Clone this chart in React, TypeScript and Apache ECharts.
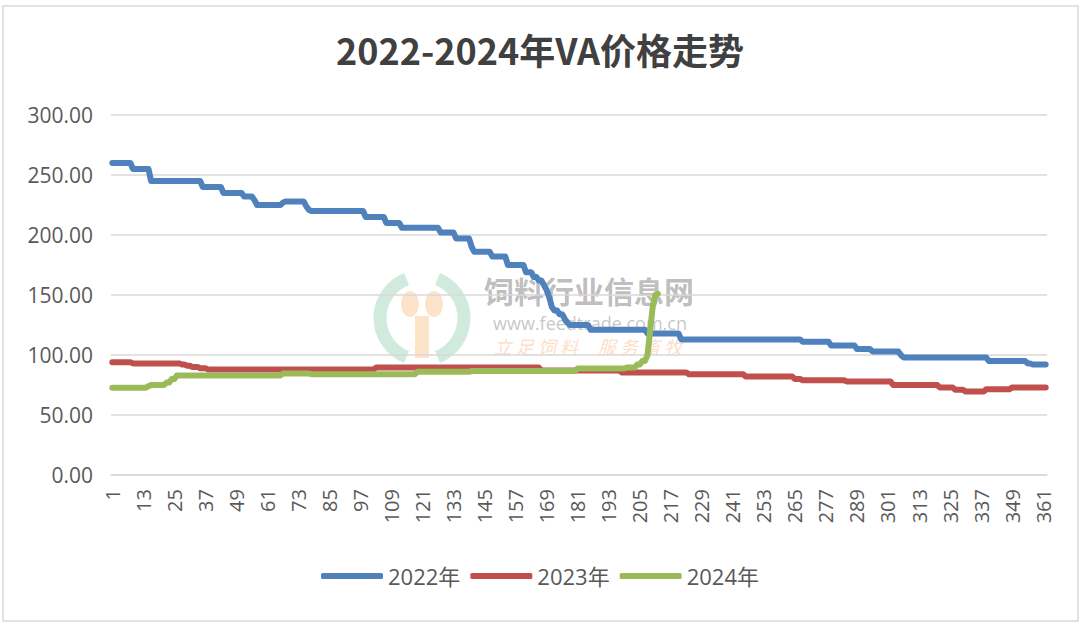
import React, { useEffect, useRef } from "react";
import * as echarts from "echarts";

// Run-length encoded daily prices: [value, number of days]
const runs2022: [number, number][] = [
  [260, 8], [255, 7], [245, 20], [240, 8], [235, 8], [232, 4], [229, 1], [225, 10],
  [227, 1], [228, 8], [224, 1], [221, 1], [220, 21], [215, 8], [210, 6], [206, 15],
  [202, 6], [197, 6], [190, 1], [186, 7], [182, 6], [175, 7], [169, 3], [165, 2],
  [162, 2], [158, 1], [154, 1], [148, 1], [140, 1], [137, 2], [134, 2], [130, 1],
  [127, 1], [125, 8], [121, 22], [118, 13], [113, 47], [111, 11], [108, 10], [105, 6],
  [103, 11], [100, 1], [98, 33], [95, 15], [93, 2], [92, 6],
];
const runs2023: [number, number][] = [
  [94, 8], [93, 19], [92, 2], [91, 2], [90, 3], [89, 3], [88, 65], [89.5, 64],
  [87, 31], [85.5, 26], [84, 22], [82, 19], [80, 3], [79, 17], [78, 18], [75, 18],
  [73, 6], [71, 4], [69.5, 8], [71.5, 10], [73, 14],
];
const runs2024: [number, number][] = [
  [72.8, 14], [74, 1], [75, 6], [77, 2], [80, 2], [83, 41], [84.5, 11], [84, 41],
  [86, 21], [86.7, 41], [88.7, 19], [89.5, 4], [92, 2], [95, 2], [100, 1], [120, 1],
  [140, 1], [150, 1], [151, 1],
];
const seriesNames = ["2022年", "2023年", "2024年"];
const dayCount = 362;
const categories: string[] = Array.from({ length: dayCount }, (_, i) => String(i + 1));
const yTicks = { min: 0, max: 300, interval: 50 };

function expand(runs: [number, number][]): number[] {
  const out: number[] = [];
  runs.forEach(([v, n]) => {
    for (let k = 0; k < n; k++) out.push(v);
  });
  return out;
}

export default function App() {
  const ref = useRef<HTMLDivElement>(null);
  useEffect(() => {
    document.body.style.margin = "0";
    const chart = echarts.init(ref.current!, undefined, { renderer: "svg" });
    const colors = ["#4F81BD", "#C0504D", "#9BBB59"];
    const data = [expand(runs2022), expand(runs2023), expand(runs2024)];
    const font = "'Open Sans', 'Noto Sans CJK SC', sans-serif";
    chart.setOption({
      animation: false,
      backgroundColor: "#ffffff",
      title: {
        text: "2022-2024年VA价格走势",
        left: "center",
        top: 26,
        textStyle: {
          fontFamily: "'Noto Sans CJK SC', sans-serif",
          fontWeight: "bold",
          fontSize: 36,
          color: "#404040",
        },
      },
      legend: {
        data: seriesNames,
        bottom: 32,
        left: "center",
        icon: "roundRect",
        itemWidth: 62,
        itemHeight: 6,
        itemGap: 10,
        textStyle: { fontFamily: font, fontSize: 22, color: "#595959", padding: [0, 0, 0, 0] },
      },
      grid: { left: 111, right: 33, top: 115, bottom: 149 },
      xAxis: {
        type: "category",
        data: categories,
        boundaryGap: true,
        axisLine: { lineStyle: { color: "#D9D9D9", width: 1.5 } },
        axisTick: { show: false },
        axisLabel: {
          interval: 11,
          rotate: 90,
          margin: 14,
          fontFamily: font,
          fontSize: 20,
          color: "#595959",
        },
      },
      yAxis: {
        type: "value",
        min: yTicks.min,
        max: yTicks.max,
        interval: yTicks.interval,
        axisLine: { show: false },
        axisTick: { show: false },
        splitLine: { lineStyle: { color: "#D9D9D9", width: 1.5 } },
        axisLabel: {
          margin: 18,
          fontFamily: font,
          fontSize: 21,
          color: "#595959",
          formatter: (v: number) => v.toFixed(2),
        },
      },
      series: seriesNames.map((name, i) => ({
        name,
        type: "line",
        data: data[i],
        showSymbol: false,
        symbol: "none",
        color: colors[i],
        lineStyle: { width: 6, color: colors[i], cap: "round", join: "round" },
        z: 2,
      })),
      graphic: [
        {
          type: "rect",
          shape: { x: 3, y: 6, width: 1075, height: 615 },
          style: { fill: "none", stroke: "#D9D9D9", lineWidth: 1.5 },
          silent: true,
        },
        {
          type: "group",
          z: 100,
          silent: true,
          children: [
            {
              type: "arc",
              shape: { cx: 422, cy: 318, r: 42, startAngle: Math.PI * 0.62, endAngle: Math.PI * 1.38 },
              style: { stroke: "rgba(150,210,180,0.45)", lineWidth: 13, fill: "none" },
            },
            {
              type: "arc",
              shape: { cx: 422, cy: 318, r: 42, startAngle: -Math.PI * 0.38, endAngle: Math.PI * 0.38 },
              style: { stroke: "rgba(150,210,180,0.45)", lineWidth: 13, fill: "none" },
            },
            {
              type: "rect",
              shape: { x: 415, y: 316, width: 14, height: 42 },
              style: { fill: "rgba(252,200,150,0.5)" },
            },
            {
              type: "ellipse",
              shape: { cx: 410, cy: 304, rx: 9, ry: 13 },
              style: { fill: "rgba(252,200,150,0.5)" },
            },
            {
              type: "ellipse",
              shape: { cx: 434, cy: 304, rx: 9, ry: 13 },
              style: { fill: "rgba(252,200,150,0.5)" },
            },
            {
              type: "text",
              x: 589,
              y: 290,
              style: {
                text: "饲料行业信息网",
                font: "bold 30px 'Noto Sans CJK SC'",
                lineHeight: 30,
                fill: "rgba(110,110,110,0.45)",
                align: "center",
                verticalAlign: "middle",
              },
            },
            {
              type: "text",
              x: 590,
              y: 323,
              style: {
                text: "www.feedtrade.com.cn",
                font: "18px 'Open Sans'",
                lineHeight: 18,
                fill: "rgba(110,110,110,0.4)",
                align: "center",
                verticalAlign: "middle",
              },
            },
            {
              type: "text",
              x: 588,
              y: 346,
              style: {
                text: "立 足 饲 料     服 务 畜 牧",
                font: "italic 18px 'Noto Sans CJK SC'",
                lineHeight: 18,
                fill: "rgba(250,170,110,0.4)",
                align: "center",
                verticalAlign: "middle",
              },
            },
          ],
        },
      ],
    });
    return () => chart.dispose();
  }, []);
  return <div ref={ref} style={{ width: 1080, height: 624 }} />;
}
